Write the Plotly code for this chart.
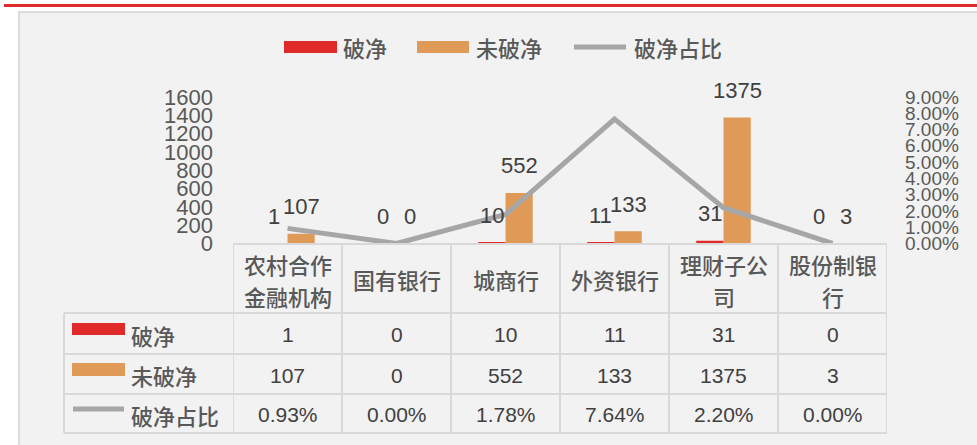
import plotly.graph_objects as go

# ---------------- data ----------------
categories = ["农村合作金融机构", "国有银行", "城商行", "外资银行", "理财子公司", "股份制银行"]
pb_count = [1, 0, 10, 11, 31, 0]            # 破净
non_pb_count = [107, 0, 552, 133, 1375, 3]  # 未破净
pb_ratio = [0.0093, 0.0000, 0.0178, 0.0764, 0.0220, 0.0000]  # 破净占比
series_names = ["破净", "未破净", "破净占比"]
left_ticks = [0, 200, 400, 600, 800, 1000, 1200, 1400, 1600]
right_ticks = [0.00, 0.01, 0.02, 0.03, 0.04, 0.05, 0.06, 0.07, 0.08, 0.09]

# ---------------- style ----------------
W, H = 977, 445
RED = "#E02A2A"
ORANGE = "#E09A58"
GRAY = "#A6A6A6"
GRID = "#D9D9D9"
TXT = "#595959"
DARK = "#404040"
NUM_FONT = "Liberation Sans, Arial, sans-serif"
CJK_FONT = "Noto Sans CJK SC, sans-serif"
CJK_WEIGHT = 500

X0, X1 = 233, 887          # plot / table column span (px)
Y_ZERO, Y_TOP = 243.5, 97  # px positions of axis min / max


def px(x):
    return x / W


def py(y):
    return 1 - y / H


fig = go.Figure()
fig.add_trace(go.Bar(x=categories, y=pb_count, name=series_names[0],
                     marker=dict(color=RED, line=dict(width=0))))
fig.add_trace(go.Bar(x=categories, y=non_pb_count, name=series_names[1],
                     marker=dict(color=ORANGE, line=dict(width=0))))
fig.add_trace(go.Scatter(x=categories, y=pb_ratio, name=series_names[2], yaxis="y2",
                         mode="lines", line=dict(color=GRAY, width=5)))

shapes = []
annotations = []

# red rule at the top and grey panel
shapes.append(dict(type="rect", xref="paper", yref="paper", x0=px(4), x1=px(W + 5),
                   y0=py(4), y1=py(7), fillcolor=RED, line=dict(width=0), layer="below"))
shapes.append(dict(type="rect", xref="paper", yref="paper", x0=px(19), x1=px(W + 10),
                   y0=py(12), y1=py(H + 10), fillcolor="#F2F2F2",
                   line=dict(color="#DCDCDC", width=2), layer="below"))

# ---------------- top legend ----------------
leg_y = 47
shapes.append(dict(type="rect", xref="paper", yref="paper", x0=px(284), x1=px(337),
                   y0=py(41), y1=py(53), fillcolor=RED, line=dict(width=0)))
shapes.append(dict(type="rect", xref="paper", yref="paper", x0=px(417), x1=px(469),
                   y0=py(41), y1=py(53), fillcolor=ORANGE, line=dict(width=0)))
shapes.append(dict(type="line", xref="paper", yref="paper", x0=px(574), x1=px(626),
                   y0=py(leg_y), y1=py(leg_y), line=dict(color=GRAY, width=5)))
for name, xl in zip(series_names, [341, 474, 632]):
    annotations.append(dict(text=name, xref="paper", yref="paper", x=px(xl), y=py(leg_y),
                            xanchor="left", yanchor="middle", showarrow=False,
                            font=dict(family=CJK_FONT, size=22, color=TXT, weight=CJK_WEIGHT)))

# ---------------- data labels ----------------
col_w = (X1 - X0) / len(categories)
shift = col_w * 0.5 / 4
for cat, a, b in zip(categories, pb_count, non_pb_count):
    for val, dx in ((a, -shift), (b, shift)):
        annotations.append(dict(text=str(val), xref="x", yref="y", x=cat, y=val,
                                xshift=dx, yshift=27, showarrow=False,
                                xanchor="center", yanchor="middle",
                                font=dict(family=NUM_FONT, size=22, color=DARK)))

# ---------------- data table ----------------
T_TOP, R1, R2, R3, T_BOT, T_LEFT = 244, 313, 354, 394, 433, 64
line_style = dict(color=GRID, width=2)
# horizontal lines
shapes.append(dict(type="line", xref="paper", yref="paper", x0=px(X0), x1=px(X1),
                   y0=py(T_TOP), y1=py(T_TOP), line=line_style))
for yy in (R1, R2, R3, T_BOT):
    shapes.append(dict(type="line", xref="paper", yref="paper", x0=px(T_LEFT), x1=px(X1),
                       y0=py(yy), y1=py(yy), line=line_style))
# vertical lines
shapes.append(dict(type="line", xref="paper", yref="paper", x0=px(T_LEFT), x1=px(T_LEFT),
                   y0=py(R1), y1=py(T_BOT), line=line_style))
for i in range(len(categories) + 1):
    shapes.append(dict(type="line", xref="x", yref="paper", x0=i - 0.5, x1=i - 0.5,
                       y0=py(T_TOP), y1=py(T_BOT), line=line_style))

# header cells (wrapped every 4 characters)
for cat in categories:
    lines = [cat[k:k + 4] for k in range(0, len(cat), 4)]
    if len(lines) == 1:
        ys = [279]
    else:
        ys = [264, 296]
    for ln, yy in zip(lines, ys):
        annotations.append(dict(text=ln, xref="x", yref="paper", x=cat, y=py(yy),
                                showarrow=False, xanchor="center", yanchor="middle",
                                font=dict(family=CJK_FONT, size=22, color=TXT,
                                          weight=CJK_WEIGHT)))

# body rows
row_centers = [(R1 + R2) / 2, (R2 + R3) / 2, (R3 + T_BOT) / 2]
row_values = [[str(v) for v in pb_count],
              [str(v) for v in non_pb_count],
              [f"{v:.2%}" for v in pb_ratio]]
for yc, vals in zip(row_centers, row_values):
    for cat, txt in zip(categories, vals):
        annotations.append(dict(text=txt, xref="x", yref="paper", x=cat, y=py(yc + 1),
                                showarrow=False, xanchor="center", yanchor="middle",
                                font=dict(family=NUM_FONT, size=21, color=DARK)))

# row header keys
shapes.append(dict(type="rect", xref="paper", yref="paper", x0=px(72), x1=px(125),
                   y0=py(323), y1=py(335), fillcolor=RED, line=dict(width=0)))
shapes.append(dict(type="rect", xref="paper", yref="paper", x0=px(72), x1=px(125),
                   y0=py(363), y1=py(376), fillcolor=ORANGE, line=dict(width=0)))
shapes.append(dict(type="line", xref="paper", yref="paper", x0=px(73), x1=px(124),
                   y0=py(409), y1=py(409), line=dict(color=GRAY, width=5)))
for name, yc in zip(series_names, row_centers):
    annotations.append(dict(text=name, xref="paper", yref="paper", x=px(129), y=py(yc + 1),
                            xanchor="left", yanchor="middle", showarrow=False,
                            font=dict(family=CJK_FONT, size=22, color=TXT, weight=CJK_WEIGHT)))

fig.update_layout(
    width=W, height=H,
    margin=dict(l=0, r=0, t=0, b=0),
    paper_bgcolor="white",
    plot_bgcolor="rgba(0,0,0,0)",
    showlegend=False,
    barmode="group",
    bargap=0.5,
    bargroupgap=0,
    xaxis=dict(domain=[px(X0), px(X1)], range=[-0.5, len(categories) - 0.5],
               showticklabels=False, showgrid=False, zeroline=False, showline=False,
               ticks="", automargin=False, fixedrange=True),
    yaxis=dict(domain=[py(Y_ZERO), py(Y_TOP)], range=[0, 1600], tickvals=left_ticks,
               showgrid=False, zeroline=False, showline=False, ticks="",
               ticklabelstandoff=19, automargin=False,
               tickfont=dict(family=NUM_FONT, size=22, color=TXT)),
    yaxis2=dict(domain=[py(Y_ZERO), py(Y_TOP)], overlaying="y", side="right", anchor="x",
                range=[0, 0.09], tickvals=right_ticks, tickformat=".2%",
                showgrid=False, zeroline=False, showline=False, ticks="",
                ticklabelstandoff=17, automargin=False,
                tickfont=dict(family=NUM_FONT, size=19, color=TXT)),
    shapes=shapes,
    annotations=annotations,
)

fig.write_html("out.html", config={"displayModeBar": False},
               post_script="document.body.style.margin='0';document.body.style.overflow='hidden';")
